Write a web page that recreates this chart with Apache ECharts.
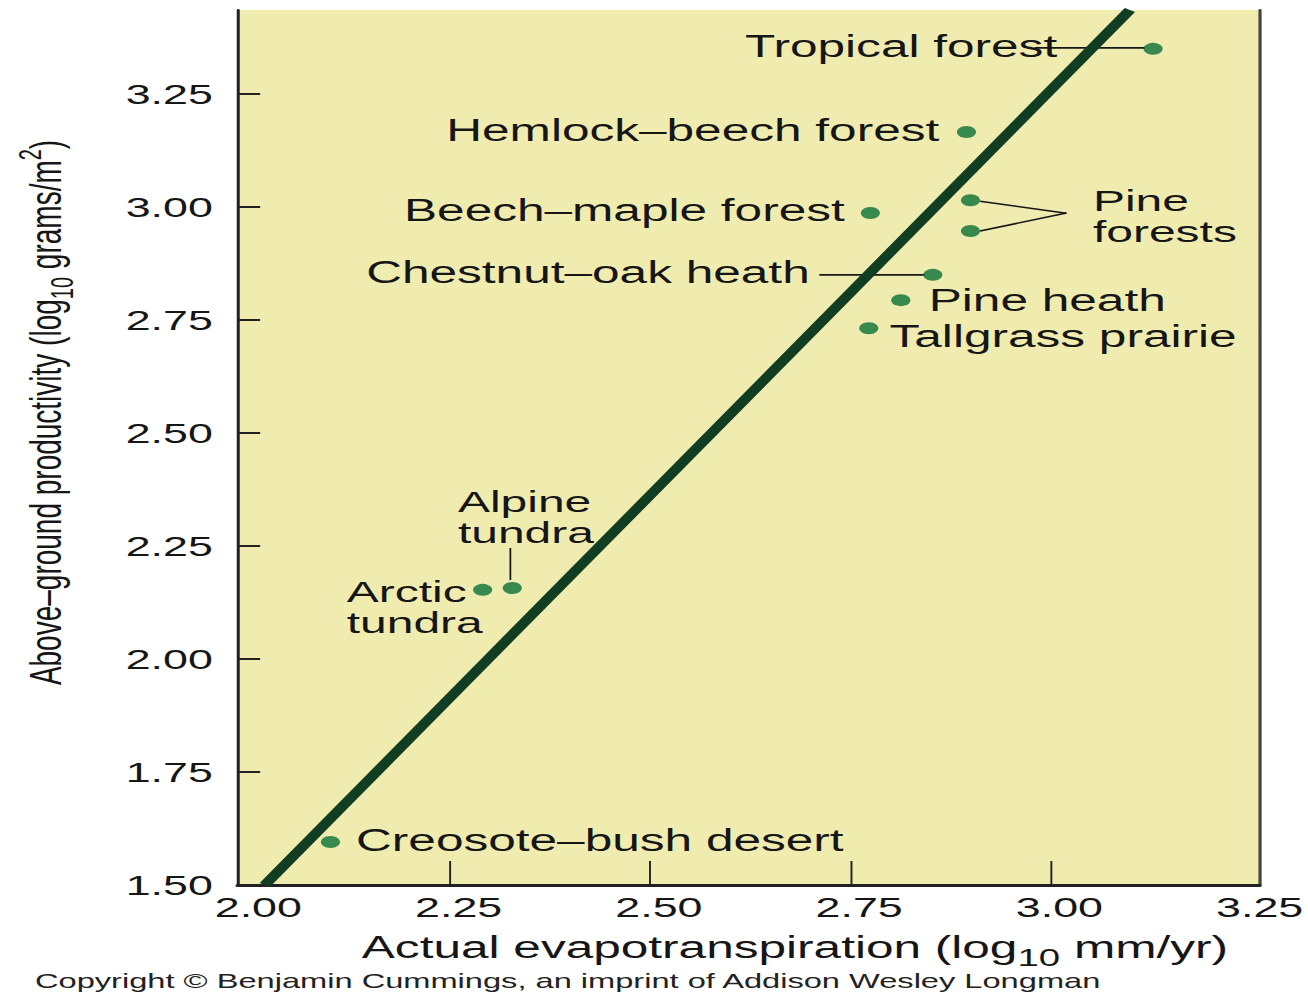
<!DOCTYPE html>
<html>
<head>
<meta charset="utf-8">
<script src="https://cdn.jsdelivr.net/npm/echarts@6/dist/echarts.min.js"></script>
<style>
  html, body { margin: 0; padding: 0; background: #ffffff; overflow: hidden; }
  /* the figure is set in a wide, horizontally extended style */
  #chart { width: 818px; height: 995px; transform: scaleX(1.599022); transform-origin: 0 0; }
</style>
</head>
<body>
<div id="chart"></div>
<script>
// Above-ground productivity against actual evapotranspiration, both on log10 scales
const siteNames = [
  'Tropical forest', 'Hemlock–beech forest', 'Beech–maple forest',
  'Pine forest A', 'Pine forest B', 'Chestnut–oak heath', 'Pine heath',
  'Tallgrass prairie', 'Alpine tundra', 'Arctic tundra', 'Creosote–bush desert'
];
const evapotranspiration = [3.128, 2.895, 2.775, 2.900, 2.900, 2.853, 2.813, 2.773, 2.328, 2.291, 2.101];
const productivity       = [3.350, 3.166, 2.987, 3.015, 2.947, 2.850, 2.794, 2.732, 2.157, 2.153, 1.595];

// fitted trend line, drawn between two end points
const trendX = [2.019, 3.099];
const trendY = [1.500, 3.436];

const xLabels = [2.00, 2.25, 2.50, 2.75, 3.00, 3.25];
const xTickMarks = [2.25, 2.50, 2.75, 3.00];
const yLabels = [1.50, 1.75, 2.00, 2.25, 2.50, 2.75, 3.00, 3.25];
const yTickMarks = [1.75, 2.00, 2.25, 2.50, 2.75, 3.00, 3.25];

const X_MIN = 1.9853, X_MAX = 3.2606;
const Y_MIN = 1.50, Y_MAX = 3.436;

const FONT = "'Liberation Sans', Arial, Helvetica, sans-serif";
const INK = '#161616';
const DOT = '#0a7035';
const TREND = '#113d22';

// annotation placement, in pixels relative to each site's marker
const annotations = [
  { site: 0, text: 'Tropical forest', align: 'right', dx: -60, dy: -2, leaders: [[-74, -1, -5, -1]] },
  { site: 1, text: 'Hemlock–beech forest', align: 'right', dx: -17, dy: -2 },
  { site: 2, text: 'Beech–maple forest', align: 'right', dx: -16, dy: -2 },
  { site: 3, text: 'Pine\nforests', align: 'left', dx: 76.6, dy: 15.5, leaders: [[6, 1, 60, 13]] },
  { site: 4, text: '', align: 'left', dx: 0, dy: 0, leaders: [[6, 0, 60, -18]] },
  { site: 5, text: 'Chestnut–oak heath', align: 'right', dx: -77, dy: -2, leaders: [[-71, 0, -5, 0]] },
  { site: 6, text: 'Pine heath', align: 'left', dx: 17.5, dy: 0 },
  { site: 7, text: 'Tallgrass prairie', align: 'left', dx: 13, dy: 8 },
  { site: 8, text: 'Alpine\ntundra', align: 'left', dx: -34, dy: -71, leaders: [[-1.2, -40, -1.2, -8]] },
  { site: 9, text: 'Arctic\ntundra', align: 'left', dx: -85, dy: 17 },
  { site: 10, text: 'Creosote–bush desert', align: 'left', dx: 16, dy: -2 }
];

const chart = echarts.init(document.getElementById('chart'), null, { renderer: 'svg', width: 818, height: 995 });

const sitePoints = siteNames.map((n, i) => ({ name: n, value: [evapotranspiration[i], productivity[i]] }));
const trendPoints = trendX.map((x, i) => [x, trendY[i]]);

chart.setOption({
  animation: false,
  backgroundColor: '#ffffff',
  textStyle: { fontFamily: FONT },
  grid: { left: 148.7, right: 27.2, top: 10, bottom: 110, show: true, backgroundColor: '#f0ecaf', borderWidth: 0 },
  xAxis: {
    type: 'value', min: X_MIN, max: X_MAX, position: 'bottom',
    axisLine: { show: true, onZero: false, lineStyle: { color: '#222', width: 3 } },
    axisTick: { show: true, inside: true, length: 24, customValues: xTickMarks, lineStyle: { color: '#222', width: 1.2 } },
    axisLabel: { customValues: xLabels, formatter: v => v.toFixed(2), fontSize: 28, color: INK, margin: 8, padding: [0, 0, 0, 11] },
    splitLine: { show: false },
    name: 'Actual evapotranspiration (log{sub|10} mm/yr)',
    nameLocation: 'middle', nameGap: 37,
    nameTextStyle: {
      fontSize: 31, color: INK, lineHeight: 44, padding: [0, 0, 0, 58],
      rich: { sub: { fontSize: 24, color: INK, verticalAlign: 'bottom', lineHeight: 24 } }
    }
  },
  yAxis: [
    {
      type: 'value', min: Y_MIN, max: Y_MAX, position: 'left',
      axisLine: { show: true, onZero: false, lineStyle: { color: '#222', width: 1.9 } },
      axisTick: { show: true, inside: true, length: 14, customValues: yTickMarks, lineStyle: { color: '#222', width: 2 } },
      axisLabel: { customValues: yLabels, formatter: v => v.toFixed(2), fontSize: 28, color: INK, margin: 15.6 },
      splitLine: { show: false },
      name: 'Above–ground productivity (log{sub|10} grams/m{sup|2})',
      nameLocation: 'middle', nameGap: 100,
      nameTextStyle: {
        fontSize: 28, color: INK, lineHeight: 40, padding: [0, 0, 0, 70],
        rich: {
          sub: { fontSize: 20, color: INK, verticalAlign: 'bottom', lineHeight: 20 },
          sup: { fontSize: 20, color: INK, verticalAlign: 'top', lineHeight: 20 }
        }
      }
    },
    {
      type: 'value', min: Y_MIN, max: Y_MAX, position: 'right',
      axisLine: { show: true, onZero: false, lineStyle: { color: '#444', width: 2 } },
      axisTick: { show: false }, axisLabel: { show: false }, splitLine: { show: false }
    }
  ],
  series: [
    {
      type: 'line', data: trendPoints, symbol: 'none', clip: true, silent: true,
      lineStyle: { color: TREND, width: 7.5 }, z: 2
    },
    {
      type: 'scatter', data: sitePoints, symbol: 'circle', symbolSize: 12,
      itemStyle: { color: DOT }, z: 3
    }
  ]
});

// labels and leader lines placed next to each marker
const graphics = [];
annotations.forEach(a => {
  const p = chart.convertToPixel({ xAxisIndex: 0, yAxisIndex: 0 }, [evapotranspiration[a.site], productivity[a.site]]);
  (a.leaders || []).forEach(l => {
    graphics.push({
      type: 'line', silent: true, z: 1,
      shape: { x1: p[0] + l[0], y1: p[1] + l[1], x2: p[0] + l[2], y2: p[1] + l[3] },
      style: { stroke: INK, lineWidth: l[0] === l[2] ? 1.1 : 1.6 }
    });
  });
  if (a.text) {
    const twoLines = a.text.indexOf('\n') >= 0;
    graphics.push({
      type: 'text', silent: true, z: 5,
      x: p[0] + a.dx, y: p[1] + a.dy,
      style: {
        text: a.text, fill: INK, fontSize: twoLines ? 30 : 31, fontFamily: FONT,
        lineHeight: 31, align: a.align, verticalAlign: 'middle'
      }
    });
  }
});
graphics.push({
  type: 'text', silent: true,
  x: 21.9, y: 981,
  style: { text: 'Copyright © Benjamin Cummings, an imprint of Addison Wesley Longman', fill: '#222', fontSize: 20.4, fontFamily: FONT, align: 'left', verticalAlign: 'middle' }
});
chart.setOption({ graphic: graphics });
</script>
</body>
</html>
